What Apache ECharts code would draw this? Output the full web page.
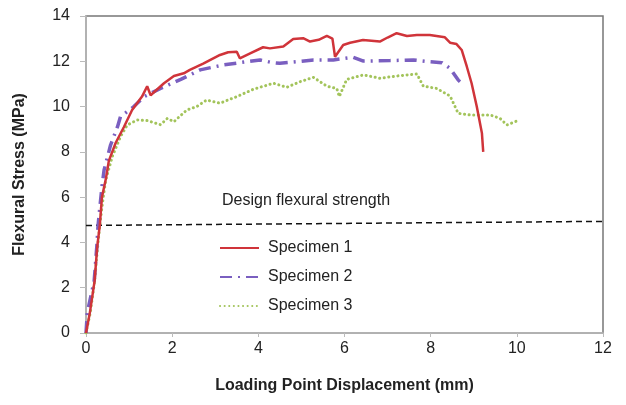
<!DOCTYPE html>
<html>
<head>
<meta charset="utf-8">
<script src="https://cdn.jsdelivr.net/npm/echarts@6/dist/echarts.min.js"></script>
<style>
  html, body { margin: 0; padding: 0; background: #fff; }
  #chart { width: 626px; height: 405px; }
</style>
</head>
<body>
<div id="chart"></div>
<script>
// [displacement mm, stress MPa]
var specimen1 = [
  [0, 0], [0.09, 0.9], [0.2, 2.3], [0.26, 3.8], [0.32, 4.75], [0.37, 6.0], [0.46, 6.8],
  [0.53, 7.6], [0.69, 8.4], [0.88, 9.1], [1.07, 9.85], [1.3, 10.44], [1.42, 10.9], [1.5, 10.5],
  [1.81, 11.03], [2.04, 11.35], [2.27, 11.47], [2.41, 11.62], [2.72, 11.9], [3.11, 12.28],
  [3.3, 12.4], [3.5, 12.42], [3.57, 12.13], [3.81, 12.35], [4.11, 12.62], [4.27, 12.57],
  [4.58, 12.65], [4.81, 12.98], [5.04, 13.02], [5.2, 12.87], [5.4, 12.95], [5.59, 13.12],
  [5.72, 13.0], [5.78, 12.2], [5.97, 12.72], [6.13, 12.82], [6.43, 12.94], [6.82, 12.87],
  [7.0, 13.05], [7.21, 13.24], [7.45, 13.12], [7.68, 13.16], [7.98, 13.16], [8.33, 13.06],
  [8.45, 12.82], [8.6, 12.76], [8.72, 12.5], [8.84, 11.76], [8.95, 11.03], [9.07, 10.0],
  [9.19, 8.82], [9.22, 8.0]
];
var specimen2 = [
  [0, 0], [0.03, 0.9], [0.19, 2.3], [0.25, 3.8], [0.28, 4.75], [0.37, 6.46], [0.42, 7.2],
  [0.57, 8.3], [0.73, 9.1], [0.8, 9.55], [1.11, 10.0], [1.35, 10.44], [1.73, 10.8], [2.2, 11.2],
  [2.65, 11.62], [3.19, 11.84], [3.73, 11.98], [4.04, 12.06], [4.3, 11.95], [4.5, 11.91],
  [4.89, 11.98], [5.28, 12.06], [5.74, 12.06], [6.2, 12.18], [6.44, 12.01], [7.06, 12.03],
  [7.6, 12.06], [7.98, 11.98], [8.26, 11.94], [8.45, 11.69], [8.64, 11.17], [8.68, 11.1]
];
var specimen3 = [
  [0, 0], [0.1, 0.9], [0.2, 2.3], [0.27, 3.8], [0.32, 4.75], [0.4, 6.0], [0.46, 6.76],
  [0.61, 7.79], [0.8, 8.67], [0.96, 9.19], [1.19, 9.41], [1.42, 9.38], [1.73, 9.2], [1.89, 9.48],
  [2.04, 9.33], [2.34, 9.85], [2.57, 10.0], [2.8, 10.29], [3.11, 10.15], [3.5, 10.44],
  [3.88, 10.76], [4.35, 11.03], [4.66, 10.85], [4.97, 11.1], [5.28, 11.29], [5.59, 10.9],
  [5.82, 10.8], [5.88, 10.44], [6.05, 11.2], [6.44, 11.4], [6.82, 11.25], [7.21, 11.35],
  [7.68, 11.44], [7.83, 10.9], [8.14, 10.8], [8.45, 10.47], [8.64, 9.7], [8.91, 9.63],
  [9.38, 9.63], [9.61, 9.48], [9.77, 9.19], [10.0, 9.36]
];
var designLine = [[0, 4.75], [12, 4.93]];
var seriesNames = ['Specimen 1', 'Specimen 2', 'Specimen 3'];

var font = '"Liberation Sans", Arial, Helvetica, sans-serif';
var chart = echarts.init(document.getElementById('chart'));

var options = {
  animation: false,
  textStyle: { fontFamily: font },
  grid: {
    left: 86, right: 23, top: 16, bottom: 72,
    show: true, borderColor: '#777', borderWidth: 1.5, backgroundColor: '#fff'
  },
  legend: {
    data: seriesNames,
    orient: 'vertical',
    left: 214,
    top: 235,
    itemWidth: 39,
    itemHeight: 14,
    itemGap: 13,
    itemStyle: { opacity: 0 },
    textStyle: { fontSize: 16, color: '#222', fontFamily: font, padding: [0, 0, 0, 4] }
  },
  graphic: [{
    type: 'text',
    left: 222,
    top: 193,
    style: { text: 'Design flexural strength', fill: '#222', font: '16px ' + font }
  }],
  xAxis: {
    type: 'value',
    min: 0, max: 12, interval: 2,
    name: 'Loading Point Displacement (mm)',
    nameLocation: 'middle',
    nameGap: 45,
    nameTextStyle: { fontSize: 16, fontWeight: 'bold', color: '#222' },
    axisLine: { show: true, lineStyle: { color: '#bbb', width: 1.5 } },
    axisTick: { show: true, length: 4, lineStyle: { color: '#bbb' } },
    axisLabel: { fontSize: 16, color: '#222', margin: 8 },
    splitLine: { show: false }
  },
  yAxis: {
    type: 'value',
    min: 0, max: 14, interval: 2,
    name: 'Flexural Stress (MPa)',
    nameLocation: 'middle',
    nameGap: 58,
    nameTextStyle: { fontSize: 16, fontWeight: 'bold', color: '#222' },
    axisLine: { show: true, lineStyle: { color: '#bbb', width: 1.5 } },
    axisTick: { show: true, length: 6, lineStyle: { color: '#bbb' } },
    axisLabel: { fontSize: 16, color: '#222', margin: 16 },
    splitLine: { show: false }
  },
  series: [
    {
      name: 'Design',
      type: 'line',
      data: designLine,
      symbol: 'none',
      silent: true,
      lineStyle: { color: '#111', width: 1.5, type: [6, 4] }
    },
    {
      name: seriesNames[2],
      type: 'line',
      data: specimen3,
      symbol: 'none',
      color: '#a3c45b',
      lineStyle: { color: '#a3c45b', width: 3, type: [0.1, 4.5], cap: 'round' }
    },
    {
      name: seriesNames[1],
      type: 'line',
      data: specimen2,
      symbol: 'none',
      color: '#7a5fc0',
      lineStyle: { color: '#7a5fc0', width: 3.5, type: [12, 6, 2, 6] }
    },
    {
      name: seriesNames[0],
      type: 'line',
      data: specimen1,
      symbol: 'none',
      color: '#d0343a',
      lineStyle: { color: '#d0343a', width: 2.5 }
    }
  ]
};
chart.setOption(options);
</script>
</body>
</html>
